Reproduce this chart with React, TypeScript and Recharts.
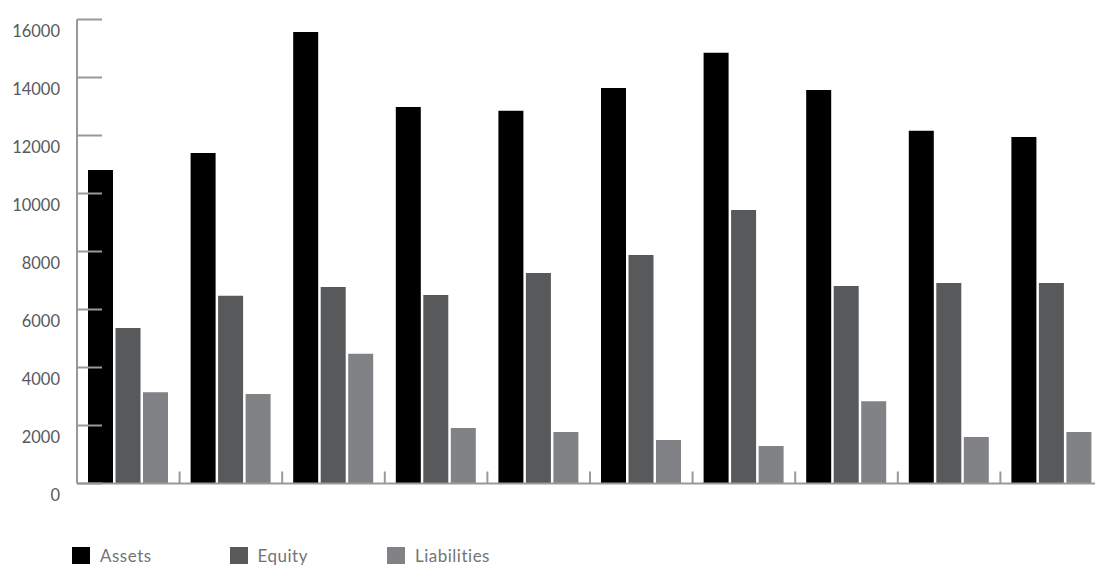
import { BarChart, Bar, XAxis, YAxis, Legend } from 'recharts';

// Balance sheet totals per year
const years = ['2009', '2010', '2011', '2012', '2013', '2014', '2015', '2016', '2017', '2018'];
const assets = [10810, 11400, 15570, 12980, 12850, 13640, 14850, 13570, 12160, 11950];
const equity = [5360, 6470, 6780, 6500, 7260, 7880, 9430, 6810, 6910, 6910];
const liabilities = [3150, 3090, 4470, 1910, 1780, 1500, 1290, 2840, 1600, 1780];
const yTicks = [0, 2000, 4000, 6000, 8000, 10000, 12000, 14000, 16000];

const SERIES = [
  { key: 'assets', name: 'Assets', color: '#000000' },
  { key: 'equity', name: 'Equity', color: '#58595b' },
  { key: 'liabilities', name: 'Liabilities', color: '#808285' },
];

const AXIS = '#98999c';
const FONT = 'Lato, "Open Sans", sans-serif';

const CHART_W = 1105;
const CHART_H = 565;
const MARGIN = { top: 19.5, right: 2, left: 0, bottom: 51.5 };
const Y_AXIS_W = 77;
const BAND = (CHART_W - MARGIN.left - MARGIN.right - Y_AXIS_W) / years.length;

const rows = years.map((year, i) => ({
  year,
  assets: assets[i],
  equity: equity[i],
  liabilities: liabilities[i],
}));

// y ticks point inward from the axis, label sits a little below the line
function YTick(props: any) {
  const { x, y, payload } = props;
  return (
    <g>
      <line x1={x + 17} x2={x + 42} y1={y} y2={y} stroke={AXIS} strokeWidth={2} />
      <text
        x={x}
        y={y + 11}
        textAnchor="end"
        dominantBaseline="central"
        fill="#58595b"
        fontSize={16.5}
        fontFamily={FONT}
      >
        {payload.value}
      </text>
    </g>
  );
}

// x ticks are short upward marks at the category boundaries
function XTick(props: any) {
  const { x, y } = props;
  const bx = x + BAND / 2;
  return <line x1={bx} x2={bx} y1={y} y2={y - 12} stroke={AXIS} strokeWidth={2} />;
}

function LegendContent() {
  return (
    <div style={{ display: 'flex', paddingLeft: 72, fontFamily: FONT }}>
      {SERIES.map((s) => (
        <div key={s.key} style={{ display: 'flex', alignItems: 'center', width: 157.5 }}>
          <span style={{ width: 18, height: 17, background: s.color, display: 'inline-block' }} />
          <span style={{ marginLeft: 10, fontSize: 17, color: '#737477', letterSpacing: 0.5 }}>
            {s.name}
          </span>
        </div>
      ))}
    </div>
  );
}

export default function App() {
  return (
    <div style={{ position: 'absolute', left: 0, top: 0, width: 1095, height: CHART_H, overflow: 'hidden' }}>
      <BarChart width={CHART_W} height={CHART_H} data={rows} margin={MARGIN} barSize={25} barGap={2.5}>
        <YAxis
          width={Y_AXIS_W}
          domain={[0, 16000]}
          ticks={yTicks}
          interval={0}
          axisLine={{ stroke: AXIS, strokeWidth: 2 }}
          tickLine={false}
          tickSize={0}
          tickMargin={17}
          tick={<YTick />}
        />
        <XAxis
          dataKey="year"
          height={30}
          interval={0}
          axisLine={{ stroke: AXIS, strokeWidth: 2 }}
          tickLine={false}
          tickSize={0}
          tickMargin={0}
          tick={<XTick />}
        />
        <Legend
          verticalAlign="middle"
          layout="horizontal"
          wrapperStyle={{ top: 545, left: 0, width: 700 }}
          content={<LegendContent />}
        />
        {SERIES.map((s) => (
          <Bar key={s.key} dataKey={s.key} name={s.name} fill={s.color} isAnimationActive={false} />
        ))}
      </BarChart>
    </div>
  );
}
